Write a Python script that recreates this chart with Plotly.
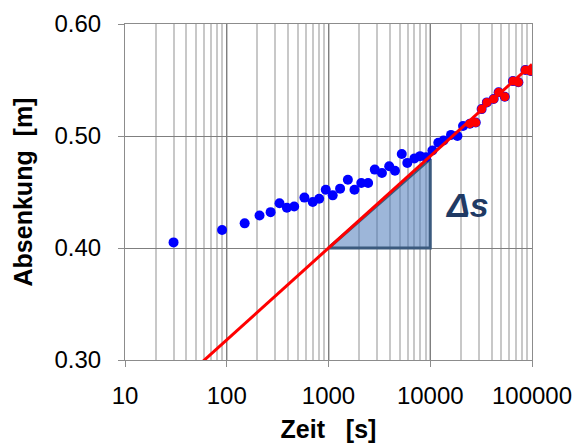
import numpy as np
import plotly.graph_objects as go

# Measured drawdown data
time_s = [30, 90, 150, 210, 270, 330, 390, 460, 580, 700, 810, 940, 1100, 1300,
          1550, 1800, 2100, 2450, 2850, 3350, 3950, 4500, 5250, 5950, 7000, 7950,
          9100, 10500, 12000, 13500, 16000, 18500, 21000, 24500, 28000, 32000,
          36000, 42000, 47000, 54000, 65000, 73500, 86000, 97000]
drawdown_m = [0.405, 0.416, 0.422, 0.429, 0.432, 0.440, 0.436, 0.437, 0.445, 0.441,
              0.444, 0.452, 0.447, 0.453, 0.461, 0.452, 0.458, 0.458, 0.470, 0.467,
              0.473, 0.469, 0.484, 0.476, 0.480, 0.482, 0.481, 0.487, 0.494, 0.496,
              0.501, 0.500, 0.509, 0.511, 0.512, 0.524, 0.530, 0.533, 0.539, 0.535,
              0.549, 0.548, 0.559, 0.558]

# Late-time points used for the straight-line fit
fit_time_s = [24500, 28000, 32000, 36000, 42000, 47000, 54000, 65000, 73500, 86000, 97000]
fit_drawdown_m = [0.511, 0.512, 0.524, 0.530, 0.533, 0.539, 0.535, 0.549, 0.548, 0.559, 0.558]

# Straight line (Cooper-Jacob): s = s0 + slope * log10(t / t0)
line_t0 = 1000
line_s0 = 0.40
line_slope = 0.082  # per log cycle
line_time_s = [40, 100000]

# Delta-s triangle over one log cycle
tri_time_s = [1000, 10000, 10000, 1000]
tri_drawdown_m = [0.40, 0.40, 0.4795, 0.40]

x_tickvals = [10, 100, 1000, 10000, 100000]
x_ticktext = ["10", "100", "1000", "10000", "100000"]
y_tickvals = [0.30, 0.40, 0.50, 0.60]

line_s = [line_s0 + line_slope * np.log10(t / line_t0) for t in line_time_s]

fig = go.Figure()
fig.add_trace(go.Scatter(
    x=tri_time_s, y=tri_drawdown_m, mode="lines", fill="toself",
    fillcolor="rgba(60,110,180,0.5)",
    line=dict(color="#3b5a7e", width=3), hoverinfo="skip"))
fig.add_trace(go.Scatter(
    x=time_s, y=drawdown_m, mode="markers",
    marker=dict(color="#0000ff", size=10)))
fig.add_trace(go.Scatter(
    x=line_time_s, y=line_s, mode="lines",
    line=dict(color="#ff0000", width=3)))
fig.add_trace(go.Scatter(
    x=fit_time_s, y=fit_drawdown_m, mode="markers",
    marker=dict(color="#ff0000", size=9)))

fig.add_annotation(x=np.log10(23000), y=0.438, text="<b><i>Δs</i></b>",
                   showarrow=False,
                   font=dict(size=34, color="#1f3a64", family="Liberation Sans"))

fig.update_xaxes(
    type="log", range=[1, 5], automargin=False,
    tickvals=x_tickvals, ticktext=x_ticktext,
    showgrid=True, gridcolor="#7f7f7f", gridwidth=1,
    ticks="outside", ticklen=6, tickcolor="#8c8c8c",
    ticklabelstandoff=8,
    showline=True, linecolor="#8c8c8c", mirror=True,
    minor=dict(dtick="D1", showgrid=True, gridcolor="#c8c8c8", gridwidth=1.5, ticks=""),
    tickfont=dict(size=24, color="#000000"),
    title=dict(text="<b>Zeit\u00a0\u00a0\u00a0[s]</b>", font=dict(size=25, color="#000000"), standoff=20),
    zeroline=False)
fig.update_yaxes(
    range=[0.30, 0.60], tickvals=y_tickvals, tickformat=".2f", automargin=False,
    showgrid=True, gridcolor="#7f7f7f", gridwidth=1,
    ticks="outside", ticklen=6, tickcolor="#8c8c8c",
    ticklabelstandoff=12,
    showline=True, linecolor="#8c8c8c", mirror=True,
    tickfont=dict(size=24, color="#000000"),
    title=dict(text="<b>Absenkung\u00a0\u00a0[m]</b>", font=dict(size=25, color="#000000"), standoff=14),
    zeroline=False)

fig.update_layout(
    width=578, height=443,
    margin=dict(l=125, r=46, t=24, b=83),
    paper_bgcolor="white", plot_bgcolor="white",
    showlegend=False,
    font=dict(family="Liberation Sans, Arial, sans-serif", color="#000000"))

fig.write_html("out.html", config={"displayModeBar": False},
               post_script="document.body.style.margin='0';")
